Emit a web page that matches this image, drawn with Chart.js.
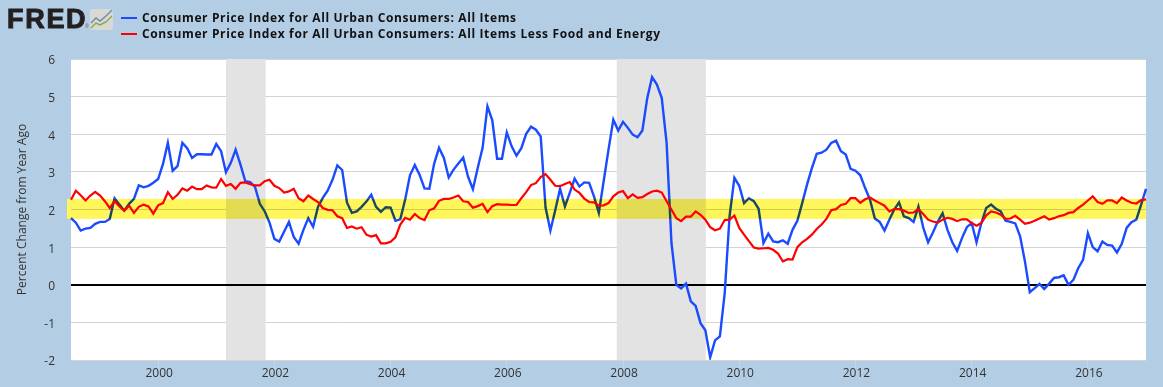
<!DOCTYPE html>
<html lang="en">

<head>
    <meta charset="UTF-8">
    <title>Consumer Price Index - Percent Change from Year Ago</title>
    <script src="https://cdn.jsdelivr.net/npm/chart.js"></script>
    <style>
        body {
            margin: 0;
            background: #b3cde5;
            overflow: hidden;
        }

        #wrap {
            position: relative;
            width: 1163px;
            height: 387px;
        }

        canvas {
            position: absolute;
            left: 0;
            top: 0;
        }

        #logo {
            position: absolute;
            left: 7px;
            top: 3px;
            font: bold 27px "Liberation Sans", Arial, sans-serif;
            line-height: 32px;
            letter-spacing: 1.7px;
            color: #231f20;
            -webkit-text-stroke: 1px #231f20;
        }

        #logo sup {
            position: absolute;
            left: 78px;
            top: 20px;
            font: 5px "Liberation Sans", Arial, sans-serif;
            line-height: 6px;
            letter-spacing: 0;
            -webkit-text-stroke: 0;
            color: #555;
        }

        #logo svg {
            position: absolute;
            left: 83px;
            top: 6px;
        }

        #legend {
            position: absolute;
            left: 121px;
            top: 10px;
            font: bold 12px "Open Sans", sans-serif;
            letter-spacing: 0.63px;
            color: #111;
        }

        #legend div {
            height: 16px;
            line-height: 16px;
            white-space: nowrap;
        }

        #legend i {
            display: inline-block;
            width: 16px;
            height: 2px;
            margin-right: 5px;
            vertical-align: 3px;
        }
    </style>
</head>

<body>
    <div id="wrap">
        <canvas id="myChart" width="1163" height="387"></canvas>
        <div id="logo">FRED<sup>®</sup><svg width="23" height="21">
                <rect width="23" height="21" rx="2" fill="#d8d8d4" />
                <polyline points="1,14 6,9 10,12 16,7 22,1" fill="none" stroke="#6d8ba6" stroke-width="1.4" />
                <polyline points="1,19 6,14 10,16 16,13 22,7" fill="none" stroke="#86a84f" stroke-width="1.4" />
            </svg></div>
        <div id="legend"></div>
    </div>

    <script>
        // monthly, Jul 1998 - Jan 2017
        const allItems = [
            1.77, 1.65, 1.44, 1.49, 1.51, 1.62,
            1.67, 1.67, 1.75, 2.30, 2.13, 1.97, 2.15, 2.28, 2.64, 2.59, 2.63, 2.71,
            2.81, 3.21, 3.77, 3.03, 3.15, 3.77, 3.63, 3.37, 3.47, 3.47, 3.46, 3.46,
            3.74, 3.55, 2.99, 3.24, 3.59, 3.19, 2.75, 2.73, 2.60, 2.15, 1.95, 1.65,
            1.22, 1.15, 1.41, 1.67, 1.27, 1.09, 1.46, 1.77, 1.54, 2.07, 2.31, 2.50,
            2.79, 3.17, 3.05, 2.18, 1.91, 1.95, 2.07, 2.21, 2.39, 2.07, 1.94, 2.06,
            2.05, 1.70, 1.74, 2.26, 2.91, 3.18, 2.92, 2.56, 2.55, 3.22, 3.64, 3.37,
            2.85, 3.06, 3.22, 3.38, 2.87, 2.54, 3.11, 3.64, 4.74, 4.37, 3.35, 3.35,
            4.05, 3.68, 3.43, 3.63, 4.01, 4.20, 4.12, 3.94, 2.05, 1.44, 1.98, 2.55,
            2.08, 2.44, 2.82, 2.61, 2.72, 2.71, 2.35, 1.91, 2.75, 3.59, 4.39, 4.10,
            4.33, 4.17, 3.99, 3.92, 4.10, 4.96, 5.52, 5.32, 4.96, 3.77, 1.11, 0.00,
            -0.10, 0.03, -0.44, -0.56, -1.02, -1.21, -1.93, -1.48, -1.37, -0.22, 1.82, 2.84,
            2.63, 2.17, 2.30, 2.22, 2.02, 1.11, 1.36, 1.15, 1.13, 1.18, 1.09, 1.46,
            1.70, 2.17, 2.66, 3.10, 3.48, 3.51, 3.59, 3.77, 3.83, 3.55, 3.46, 3.08,
            3.03, 2.91, 2.57, 2.26, 1.76, 1.67, 1.44, 1.73, 2.00, 2.19, 1.82, 1.77,
            1.67, 2.08, 1.52, 1.13, 1.39, 1.68, 1.90, 1.46, 1.13, 0.90, 1.24, 1.53,
            1.64, 1.13, 1.64, 2.04, 2.13, 2.02, 1.95, 1.70, 1.67, 1.63, 1.29, 0.62,
            -0.20, -0.09, 0.02, -0.11, 0.03, 0.18, 0.20, 0.25, 0.00, 0.13, 0.44, 0.66,
            1.37, 1.00, 0.89, 1.15, 1.06, 1.04, 0.86, 1.09, 1.51, 1.66, 1.73, 2.13,
            2.55
        ];

        const lessFoodEnergy = [
            2.26, 2.50, 2.38, 2.24, 2.37, 2.47,
            2.37, 2.22, 2.04, 2.22, 2.08, 1.97, 2.10, 1.91, 2.07, 2.13, 2.08, 1.89,
            2.11, 2.17, 2.46, 2.28, 2.39, 2.56, 2.50, 2.61, 2.54, 2.54, 2.64, 2.59,
            2.58, 2.81, 2.63, 2.68, 2.55, 2.71, 2.72, 2.67, 2.64, 2.64, 2.75, 2.79,
            2.63, 2.57, 2.45, 2.48, 2.55, 2.30, 2.22, 2.37, 2.28, 2.20, 2.04, 1.99,
            1.98, 1.82, 1.77, 1.51, 1.55, 1.49, 1.53, 1.33, 1.28, 1.32, 1.10, 1.10,
            1.14, 1.26, 1.60, 1.78, 1.73, 1.88, 1.77, 1.72, 1.98, 2.03, 2.23, 2.28,
            2.28, 2.32, 2.37, 2.22, 2.20, 2.05, 2.09, 2.15, 1.93, 2.09, 2.14, 2.13,
            2.13, 2.12, 2.12, 2.30, 2.46, 2.65, 2.70, 2.86, 2.94, 2.79, 2.63, 2.62,
            2.68, 2.73, 2.53, 2.44, 2.29, 2.20, 2.19, 2.10, 2.11, 2.17, 2.35, 2.45,
            2.49, 2.30, 2.40, 2.31, 2.33, 2.41, 2.48, 2.50, 2.45, 2.22, 2.00, 1.77,
            1.69, 1.81, 1.81, 1.95, 1.86, 1.73, 1.53, 1.45, 1.49, 1.72, 1.73, 1.84,
            1.51, 1.33, 1.16, 0.99, 0.96, 0.97, 0.98, 0.93, 0.83, 0.62, 0.68, 0.67,
            1.00, 1.13, 1.22, 1.33, 1.48, 1.60, 1.75, 1.98, 2.01, 2.12, 2.15, 2.30,
            2.30, 2.18, 2.27, 2.32, 2.24, 2.17, 2.10, 1.95, 2.01, 2.01, 1.97, 1.91,
            1.92, 2.01, 1.88, 1.73, 1.68, 1.65, 1.73, 1.78, 1.75, 1.69, 1.74, 1.74,
            1.64, 1.57, 1.64, 1.84, 1.95, 1.92, 1.86, 1.75, 1.76, 1.83, 1.73, 1.62,
            1.65, 1.70, 1.76, 1.82, 1.73, 1.77, 1.82, 1.85, 1.91, 1.93, 2.04, 2.13,
            2.24, 2.35, 2.20, 2.15, 2.24, 2.24, 2.17, 2.32, 2.24, 2.18, 2.16, 2.25,
            2.27
        ];

        const seriesNames = [
            'Consumer Price Index for All Urban Consumers: All Items',
            'Consumer Price Index for All Urban Consumers: All Items Less Food and Energy'
        ];
        const seriesColors = ['#1a4bff', '#ff0000'];
        const yTicks = [6, 5, 4, 3, 2, 1, 0, -1, -2];

        // recessions, as positions on the monthly axis
        const recessionStart = [32, 112.7];
        const recessionEnd = [40.2, 131.1];
        const bandLow = 1.75;
        const bandHigh = 2.28;

        // month labels, e.g. 2000-01
        const months = [];
        for (let i = 0; i < allItems.length; i++) {
            const m = 6 + i;
            const month = String(m % 12 + 1).padStart(2, '0');
            months.push((1998 + Math.floor(m / 12)) + '-' + month);
        }

        function isYearTick(label) {
            const parts = label.split('-');
            return parts[1] === '01' && Number(parts[0]) % 2 === 0;
        }

        // html legend
        const legend = document.getElementById('legend');
        seriesNames.forEach((name, i) => {
            const row = document.createElement('div');
            const swatch = document.createElement('i');
            swatch.style.background = seriesColors[i];
            row.appendChild(swatch);
            row.appendChild(document.createTextNode(name));
            legend.appendChild(row);
        });

        // recession shading and the zero line go under the series
        const underlay = {
            id: 'underlay',
            beforeDatasetsDraw(chart) {
                const { ctx, chartArea, scales } = chart;
                ctx.save();
                ctx.fillStyle = '#e3e3e3';
                recessionStart.forEach((start, i) => {
                    const x0 = scales.x.getPixelForValue(start);
                    const x1 = scales.x.getPixelForValue(recessionEnd[i]);
                    ctx.fillRect(x0, chartArea.top, x1 - x0, chartArea.height);
                });
                const y0 = Math.round(scales.y.getPixelForValue(0));
                ctx.fillStyle = '#000';
                ctx.fillRect(chartArea.left, y0 - 1, chartArea.width, 2);
                ctx.restore();
            }
        };

        // yellow target band is multiplied over everything, it pokes out a bit on the left
        const targetBand = {
            id: 'targetBand',
            afterDatasetsDraw(chart) {
                const { ctx, chartArea, scales } = chart;
                const top = scales.y.getPixelForValue(bandHigh);
                const bottom = scales.y.getPixelForValue(bandLow);
                ctx.save();
                ctx.globalCompositeOperation = 'multiply';
                ctx.fillStyle = '#fff65c';
                ctx.fillRect(chartArea.left - 4, top, chartArea.width + 4, bottom - top);
                ctx.restore();
            }
        };

        new Chart(document.getElementById('myChart').getContext('2d'), {
            type: 'line',
            data: {
                labels: months,
                datasets: [{
                    label: seriesNames[0],
                    data: allItems,
                    borderColor: seriesColors[0],
                    borderWidth: 2.4,
                    order: 2
                }, {
                    label: seriesNames[1],
                    data: lessFoodEnergy,
                    borderColor: seriesColors[1],
                    borderWidth: 2.2,
                    order: 1
                }]
            },
            plugins: [{
                id: 'plotBackground',
                beforeDraw(chart) {
                    const { ctx, chartArea } = chart;
                    ctx.fillStyle = '#fff';
                    ctx.fillRect(chartArea.left, chartArea.top, chartArea.width, chartArea.height);
                }
            }, underlay, targetBand],
            options: {
                responsive: false,
                animation: false,
                layout: { padding: { top: 59, right: 17, left: 0, bottom: 0 } },
                elements: {
                    point: { radius: 0 },
                    line: { tension: 0, borderJoinStyle: 'miter' }
                },
                plugins: {
                    legend: { display: false },
                    tooltip: { enabled: false }
                },
                scales: {
                    x: {
                        type: 'category',
                        offset: false,
                        afterFit(scale) { scale.height = 27; },
                        border: { display: false },
                        grid: {
                            drawOnChartArea: false,
                            tickLength: 10,
                            tickColor: ctx => isYearTick(months[ctx.index]) ? '#c3d6ea' : 'transparent'
                        },
                        ticks: {
                            autoSkip: false,
                            maxRotation: 0,
                            padding: -4,
                            labelOffset: 1,
                            color: '#333',
                            font: { family: '"Open Sans"', size: 12 },
                            callback: function (value, index) {
                                return isYearTick(months[index]) ? months[index].slice(0, 4) : '';
                            }
                        }
                    },
                    y: {
                        min: -2,
                        max: 6,
                        afterFit(scale) { scale.width = 71; },
                        afterBuildTicks(scale) { scale.ticks = yTicks.map(v => ({ value: v })); },
                        border: { display: false },
                        grid: {
                            color: '#d3d3d3',
                            lineWidth: 1,
                            tickLength: 0
                        },
                        ticks: {
                            padding: 16,
                            labelOffset: 2,
                            color: '#333',
                            font: { family: '"Open Sans"', size: 12 },
                            callback: value => String(value)
                        },
                        title: {
                            display: true,
                            text: 'Percent Change from Year Ago',
                            color: '#333',
                            font: { family: '"Open Sans"', size: 12 },
                            padding: { top: 15, bottom: 0 }
                        }
                    }
                }
            }
        });
    </script>
</body>

</html>
